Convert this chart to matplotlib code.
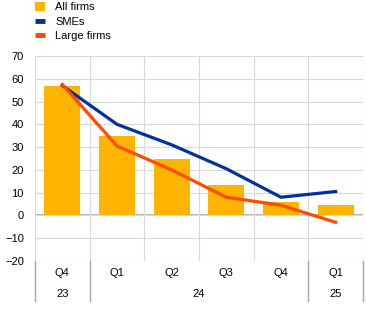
import matplotlib.pyplot as plt
import numpy as np

plt.rcParams['font.family'] = ['Liberation Sans', 'DejaVu Sans']

# data
quarters = ['Q4', 'Q1', 'Q2', 'Q3', 'Q4', 'Q1']
years = ['23', '24', '25']
year_spans = [(0, 1), (1, 5), (5, 6)]
all_firms = [57, 35, 25, 13.5, 6, 4.5]
smes = [57, 40, 31, 20.5, 8, 10.5]
large_firms = [57.5, 30.5, 20, 8, 4.5, -3]

fig = plt.figure(figsize=(3.66, 3.22), dpi=100)
ax = fig.add_axes([35/366, 61/322, 328/366, 205/322])

x = np.arange(len(quarters))
b = ax.bar(x, all_firms, width=0.66, color='#FFB400', label='All firms', zorder=2)
l1, = ax.plot(x, smes, color='#003299', lw=2.3, label='SMEs', zorder=3)
l2, = ax.plot(x, large_firms, color='#FF4B00', lw=2.3, label='Large firms', zorder=4)

ax.set_xlim(-0.5, len(quarters) - 0.5)
ax.set_ylim(-20, 70)
ax.set_yticks(range(-20, 71, 10))
ax.set_xticks(np.arange(-0.5, len(quarters), 1))
ax.set_xticklabels([])
ax.tick_params(length=0, labelsize=8, pad=8)
ax.grid(True, color='#d9d9d9', lw=0.8, zorder=0)
for s in ax.spines.values():
    s.set_visible(False)
ax.axhline(0, color='#a6a6a6', lw=1.2, zorder=1)

# category axis below
trans = ax.get_xaxis_transform()
for i, q in enumerate(quarters):
    ax.text(i, -0.06, q, transform=trans, ha='center', va='center', fontsize=8)
for (a, e), yr in zip(year_spans, years):
    ax.text((a + e - 1) / 2, -0.16, yr, transform=trans, ha='center', va='center', fontsize=8)
for a in [0, 1, 5, 6]:
    ax.plot([a - 0.5, a - 0.5], [0, -0.195], transform=trans, color='#a6a6a6', lw=1, clip_on=False)

h1 = plt.Line2D([], [], color='#003299', lw=3.5, solid_capstyle='butt')
h2 = plt.Line2D([], [], color='#FF4B00', lw=3.5, solid_capstyle='butt')
fig.legend([b, h1, h2], ['All firms', 'SMEs', 'Large firms'],
           loc='upper left', bbox_to_anchor=(25/366, 1.025), frameon=False, fontsize=8,
           handlelength=0.9, handleheight=0.9, labelspacing=0.35, handletextpad=0.9)

fig.savefig('out.png', dpi=100)
